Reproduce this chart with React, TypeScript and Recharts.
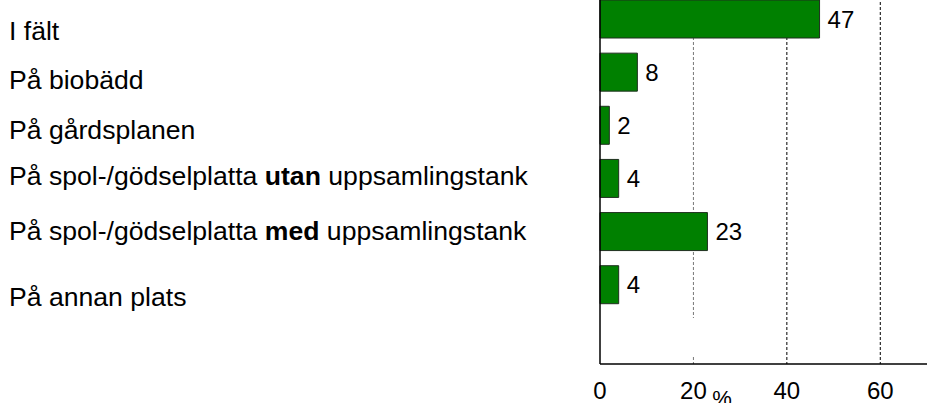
import { BarChart, Bar, XAxis, YAxis, CartesianGrid, LabelList } from "recharts";

// "**" marks the bold word in a category label
const categories = [
  "I fält",
  "På biobädd",
  "På gårdsplanen",
  "På spol-/gödselplatta **utan** uppsamlingstank",
  "På spol-/gödselplatta **med** uppsamlingstank",
  "På annan plats",
  "",
];
const shares = [47, 8, 2, 4, 23, 4, null];
const xTicks = [0, 20, 40, 60];
const xDomain: [number, number] = [0, 70];
const gridValues = [20, 40, 60];
const axisUnit = "%";

const data = categories.map((name, i) => ({ name, value: shares[i] }));

// the labels in the original do not sit exactly on the bar centres
const LABEL_NUDGE = [12, 8, 5, -2, -1, 12, 0];

function CategoryTick(props: any) {
  const { y, payload, index } = props;
  const parts = String(payload.value).split("**");
  return (
    <text
      x={9}
      y={y + (LABEL_NUDGE[index] ?? 0)}
      dy="0.355em"
      fontSize={26.6}
      fill="#000"
      textAnchor="start"
    >
      {parts.map((p, i) => (
        <tspan key={i} fontWeight={i % 2 ? "bold" : "normal"}>
          {p}
        </tspan>
      ))}
    </text>
  );
}

// first grid line (20) is lighter and broken near the bottom
function GridLine(props: any) {
  const { x1, y1, x2, y2, index } = props;
  if (index === 0) {
    return (
      <g stroke="#777" strokeWidth={1} strokeDasharray="3 2">
        <line x1={x1} y1={y1} x2={x2} y2={y2 - 46} />
        <line x1={x1} y1={y2 - 7} x2={x2} y2={y2} />
      </g>
    );
  }
  return <line x1={x1} y1={y1} x2={x2} y2={y2} stroke="#000" strokeWidth={1} strokeDasharray="3 2" />;
}

function gridX(args: any) {
  const scale = args?.xAxis?.scale;
  return gridValues.map((v) => {
    if (typeof scale === "function") return scale(v);
    if (scale && typeof scale.map === "function") return scale.map(v);
    const { left, width } = args.offset;
    return left + ((v - xDomain[0]) / (xDomain[1] - xDomain[0])) * width;
  });
}

function UnitLabel(props: any) {
  const { viewBox } = props;
  return (
    <text x={viewBox.x + 122} y={viewBox.y + 42} fontSize={22} fill="#000" textAnchor="middle">
      {axisUnit}
    </text>
  );
}

export default function App() {
  return (
    <div
      style={{
        position: "absolute",
        left: 0,
        top: 0,
        width: 929,
        height: 403,
        overflow: "hidden",
        background: "#fff",
      }}
    >
      <div style={{ position: "absolute", left: 0, top: -8 }}>
        <BarChart
          width={929}
          height={411}
          data={data}
          layout="vertical"
          margin={{ top: 0, right: 2, bottom: 0, left: 0 }}
          barSize={38}
          style={{ fontFamily: '"Liberation Sans", Arial, sans-serif' }}
        >
          <CartesianGrid horizontal={false} vertical={<GridLine />} verticalCoordinatesGenerator={gridX} />
          <XAxis
            type="number"
            domain={xDomain}
            ticks={xTicks}
            tickLine={false}
            tickSize={0}
            tickMargin={18}
            axisLine={{ stroke: "#000", strokeWidth: 1.5 }}
            tick={{ fontSize: 24, fill: "#000" }}
            height={39}
            label={<UnitLabel />}
          />
          <YAxis
            type="category"
            dataKey="name"
            width={600}
            interval={0}
            tickLine={false}
            axisLine={{ stroke: "#000", strokeWidth: 1.5 }}
            tick={<CategoryTick />}
          />
          <Bar dataKey="value" fill="#008000" stroke="#1f2f1f" strokeWidth={1} isAnimationActive={false}>
            <LabelList
              dataKey="value"
              position="right"
              offset={8}
              fontSize={24}
              fill="#000"
              formatter={(v: any) => (v == null ? "" : v)}
            />
          </Bar>
        </BarChart>
      </div>
    </div>
  );
}
